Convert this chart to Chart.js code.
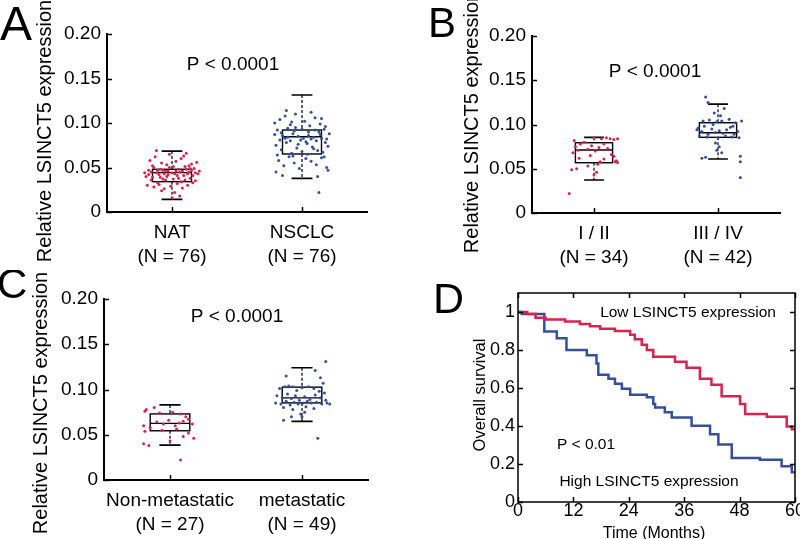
<!DOCTYPE html>
<html>
<head>
<meta charset="utf-8">
<script src="https://cdn.jsdelivr.net/npm/chart.js@4.4.1/dist/chart.umd.min.js"></script>
<style>
  html, body { margin: 0; padding: 0; background: #fff; overflow: hidden; }
  #fig { position: relative; width: 800px; height: 539px; overflow: hidden; background: #fff; }
  #fig canvas { position: absolute; }
</style>
</head>
<body>
<div id="fig">
  <canvas id="panelA" width="400" height="270" style="left:0;top:0"></canvas>
  <canvas id="panelB" width="400" height="270" style="left:400px;top:0"></canvas>
  <canvas id="panelC" width="400" height="269" style="left:0;top:270px"></canvas>
  <canvas id="panelD" width="420" height="269" style="left:400px;top:270px"></canvas>
</div>
<script>
const FONT = "'Liberation Sans', Arial, sans-serif";
const RED = '#d8234f';
const BLUE = '#34509c';

// shared y ticks for the box panels
const boxYTicks = [0, 0.05, 0.10, 0.15, 0.20];

// ---- Panel A: NAT vs NSCLC ----
const catsA = [['NAT', '(N = 76)'], ['NSCLC', '(N = 76)']];
// [jitter, value]
const natPoints = [
  [-0.18,0.047],[-0.15,0.052],[-0.12,0.044],[-0.09,0.039],[-0.05,0.046],[-0.02,0.050],[0.02,0.043],[0.05,0.048],[0.09,0.041],[0.13,0.045],[0.17,0.049],[0.20,0.043],
  [-0.20,0.040],[-0.16,0.036],[-0.11,0.033],[-0.07,0.047],[-0.03,0.042],[0.01,0.037],[0.06,0.045],[0.10,0.051],[0.14,0.038],[0.18,0.035],
  [-0.17,0.058],[-0.13,0.062],[-0.08,0.055],[-0.04,0.053],[0.03,0.057],[0.07,0.060],[0.11,0.066],[0.15,0.054],[0.19,0.056],
  [-0.19,0.030],[-0.14,0.028],[-0.10,0.031],[-0.06,0.026],[-0.01,0.029],[0.04,0.032],[0.08,0.027],[0.12,0.030],[0.16,0.033],
  [-0.21,0.044],[-0.12,0.069],[-0.02,0.065],[0.09,0.063],[0.02,0.022],[0.06,0.018],[0.00,0.016],[-0.08,0.024],
  [-0.16,0.045],[-0.11,0.047],[-0.06,0.043],[-0.03,0.046],[0.00,0.044],[0.04,0.041],[0.08,0.046],[0.12,0.043],[0.15,0.047],[-0.18,0.042],
  [-0.14,0.050],[-0.09,0.048],[-0.04,0.040],[0.01,0.051],[0.05,0.038],[0.10,0.036],[0.14,0.049],[0.18,0.044],[0.21,0.046],
  [-0.15,0.039],[-0.10,0.042],[-0.05,0.036],[0.03,0.046],[0.07,0.034],[0.11,0.048],[0.16,0.041],[-0.07,0.037],[0.13,0.052]
];
const nsclcPoints = [
  [-0.19,0.092],[-0.15,0.086],[-0.11,0.084],[-0.07,0.088],[-0.03,0.085],[0.01,0.083],[0.05,0.086],[0.09,0.084],[0.13,0.090],[0.17,0.093],[0.21,0.088],
  [-0.20,0.075],[-0.16,0.070],[-0.12,0.078],[-0.08,0.066],[-0.04,0.072],[0.00,0.068],[0.04,0.077],[0.08,0.073],[0.12,0.069],[0.16,0.067],[0.20,0.074],
  [-0.21,0.100],[-0.17,0.104],[-0.13,0.108],[-0.09,0.098],[-0.05,0.095],[0.02,0.102],[0.06,0.097],[0.10,0.106],[0.14,0.099],[0.18,0.096],
  [-0.18,0.058],[-0.14,0.052],[-0.10,0.062],[-0.06,0.055],[-0.02,0.049],[0.03,0.060],[0.07,0.057],[0.11,0.053],[0.15,0.061],[0.19,0.050],
  [-0.20,0.045],[-0.12,0.114],[-0.05,0.110],[0.07,0.112],[0.15,0.105],[0.20,0.047],[0.12,0.040],[0.13,0.022],[-0.15,0.041],
  [-0.17,0.081],[-0.13,0.083],[-0.09,0.080],[-0.01,0.081],[0.03,0.079],[0.07,0.082],[0.11,0.080],[0.15,0.083],[0.19,0.082],
  [-0.21,0.087],[-0.16,0.089],[-0.06,0.091],[0.00,0.093],[0.05,0.090],[0.10,0.092],[0.14,0.087],[-0.19,0.064],[-0.07,0.063],[0.17,0.062],
  [-0.11,0.094],[-0.03,0.076],[0.09,0.071],[0.18,0.078],[-0.08,0.101],[0.04,0.065]
];
// [lower whisker, q1, median, q3, upper whisker]
const boxA = [[0.0142, 0.0341, 0.0442, 0.0480, 0.0684], [0.0378, 0.0652, 0.0846, 0.0921, 0.1315]];

// ---- Panel B: stage I/II vs III/IV ----
const catsB = [['I / II', '(N = 34)'], ['III / IV', '(N = 42)']];
const stage12Points = [
  [-0.20,0.022],[-0.18,0.049],[-0.14,0.050],[-0.05,0.053],[0.02,0.046],[0.00,0.043],[0.03,0.055],
  [-0.17,0.068],[-0.15,0.075],[-0.13,0.071],[-0.11,0.078],[-0.08,0.080],[-0.05,0.072],[-0.02,0.076],[0.01,0.070],[0.04,0.074],[0.08,0.078],[0.11,0.073],[0.14,0.066],[0.16,0.064],
  [0.06,0.084],[0.10,0.085],[0.13,0.084],[0.16,0.083],[0.19,0.084],[0.00,0.085],
  [0.18,0.059],[0.19,0.057],[0.17,0.058],[0.08,0.061],[-0.12,0.062],[-0.03,0.065],[0.05,0.058],[-0.16,0.082]
];
const stage34Points = [
  [-0.10,0.131],[-0.08,0.125],[0.05,0.118],[-0.03,0.113],[0.02,0.110],
  [-0.17,0.094],[-0.16,0.096],[-0.13,0.092],[-0.11,0.098],[-0.08,0.089],[-0.05,0.095],[-0.02,0.091],[0.01,0.093],[0.04,0.090],[0.07,0.094],[0.10,0.097],[0.13,0.089],[0.16,0.092],[0.19,0.104],
  [-0.12,0.104],[-0.07,0.105],[-0.01,0.103],[0.03,0.104],[0.09,0.106],[0.14,0.102],[-0.04,0.100],
  [-0.15,0.087],[-0.09,0.086],[0.00,0.085],[0.06,0.087],[0.11,0.086],[0.17,0.085],
  [-0.02,0.079],[0.01,0.075],[-0.01,0.071],[0.03,0.068],
  [-0.13,0.062],[-0.10,0.063],[0.18,0.064],[0.18,0.058],[0.18,0.040],[0.12,0.098]
];
const boxB = [[0.0373, 0.0568, 0.0712, 0.0794, 0.0855], [0.0610, 0.0855, 0.0907, 0.1020, 0.1230]];

// ---- Panel C: non-metastatic vs metastatic ----
const catsC = [['Non-metastatic', '(N = 27)'], ['metastatic', '(N = 49)']];
const nonMetPoints = [
  [-0.19,0.076],[-0.18,0.078],[-0.12,0.080],[-0.08,0.074],[0.02,0.075],[0.08,0.073],[0.12,0.070],
  [-0.20,0.060],[-0.15,0.058],[-0.10,0.064],[-0.05,0.062],[-0.01,0.066],[0.04,0.060],[0.07,0.063],[0.10,0.065],[0.14,0.067],[0.17,0.062],
  [-0.19,0.054],[-0.06,0.055],[0.05,0.056],[0.14,0.052],[0.18,0.046],
  [-0.20,0.040],[-0.16,0.038],[0.00,0.043],[0.10,0.048],[0.08,0.022]
];
const metPoints = [
  [0.18,0.131],[0.10,0.121],[-0.12,0.115],[0.14,0.113],[0.16,0.107],
  [-0.17,0.101],[-0.13,0.103],[-0.10,0.104],[-0.07,0.103],[-0.04,0.099],[0.00,0.102],[0.05,0.103],[0.09,0.101],[0.13,0.098],[0.17,0.096],
  [-0.19,0.093],[-0.15,0.091],[-0.11,0.095],[-0.08,0.090],[-0.05,0.093],[-0.02,0.088],[0.02,0.092],[0.06,0.089],[0.10,0.094],[0.14,0.091],[0.18,0.088],
  [-0.20,0.085],[-0.16,0.084],[-0.12,0.087],[-0.09,0.083],[-0.06,0.086],[-0.03,0.084],[0.01,0.085],[0.04,0.087],[0.07,0.085],[0.11,0.086],[0.15,0.084],[0.19,0.085],[0.21,0.084],
  [-0.14,0.080],[-0.07,0.078],[0.03,0.081],[0.09,0.079],[-0.01,0.073],[0.00,0.070],
  [-0.14,0.066],[-0.08,0.070],[0.02,0.075],[0.12,0.046]
];
const boxC = [[0.0385, 0.0544, 0.0626, 0.0730, 0.0830], [0.0648, 0.0852, 0.0907, 0.1026, 0.1240]];

// ---- Panel D: Kaplan-Meier ----
const survXTicks = [0, 12, 24, 36, 48, 60];
const survYTicks = [0, 0.2, 0.4, 0.6, 0.8, 1];
const lowTime = [0, 2, 3.8, 6, 10.2, 13.4, 15.6, 17.8, 21, 24.3, 25.3, 26.8, 27.9, 29.3, 34, 36.5, 39.4, 41.9, 44.1, 48.1, 49.2, 53.9, 58.2, 59.3, 60];
const lowSurv = [1.0, 0.99, 0.97, 0.96, 0.95, 0.937, 0.925, 0.912, 0.90, 0.88, 0.856, 0.828, 0.80, 0.764, 0.738, 0.706, 0.649, 0.617, 0.557, 0.516, 0.463, 0.449, 0.397, 0.383, 0.383];
const highTime = [0, 0.8, 5.7, 8.4, 10.5, 14.9, 17, 17.4, 19.6, 21, 22.5, 24.3, 27.9, 29.3, 29.7, 31.8, 33.3, 37.6, 41.6, 43.4, 46.3, 52.4, 57.1, 59.3, 60];
const highSurv = [1.0, 0.99, 0.897, 0.862, 0.80, 0.773, 0.729, 0.67, 0.649, 0.622, 0.596, 0.564, 0.551, 0.516, 0.498, 0.472, 0.445, 0.401, 0.356, 0.303, 0.232, 0.223, 0.188, 0.156, 0.156];

const BOX_HALF = 0.15;
const CAP_HALF = 0.08;

function drawText(ctx, text, x, y, size, rotate) {
  ctx.save();
  ctx.font = size + 'px ' + FONT;
  ctx.fillStyle = '#000';
  ctx.textAlign = 'center';
  ctx.textBaseline = 'middle';
  ctx.translate(x, y);
  if (rotate) ctx.rotate(-Math.PI / 2);
  ctx.fillText(text, 0, 0);
  ctx.restore();
}

function drawLetter(ctx, letter, x, y, size) {
  ctx.save();
  ctx.font = size + 'px ' + FONT;
  ctx.fillStyle = '#000';
  ctx.textAlign = 'left';
  ctx.textBaseline = 'alphabetic';
  ctx.fillText(letter, x, y);
  ctx.restore();
}

function toXY(points, cat) {
  return points.map(p => ({ x: cat + p[0], y: p[1] }));
}

function boxPanel(canvasId, cats, redPts, bluePts, stats, cfg) {
  const decor = {
    id: 'decor',
    beforeDatasetsDraw(chart) {
      const { ctx, scales: { x, y } } = chart;
      ctx.save();
      ctx.strokeStyle = '#000';
      stats.forEach((s, i) => {
        const cx = x.getPixelForValue(i + 1);
        const half = x.getPixelForValue(i + 1 + BOX_HALF) - cx;
        const cap = x.getPixelForValue(i + 1 + CAP_HALF) - cx;
        const [lo, q1, med, q3, hi] = s.map(v => y.getPixelForValue(v));
        ctx.lineWidth = 1.2;
        ctx.setLineDash([3, 2]);
        ctx.beginPath();
        ctx.moveTo(cx, hi); ctx.lineTo(cx, q3);
        ctx.moveTo(cx, q1); ctx.lineTo(cx, lo);
        ctx.stroke();
        ctx.setLineDash([]);
        ctx.lineWidth = 1.6;
        ctx.beginPath();
        ctx.moveTo(cx - cap, hi); ctx.lineTo(cx + cap, hi);
        ctx.moveTo(cx - cap, lo); ctx.lineTo(cx + cap, lo);
        ctx.stroke();
        ctx.lineWidth = 1.4;
        ctx.strokeRect(cx - half, q3, 2 * half, q1 - q3);
        ctx.beginPath();
        ctx.moveTo(cx - half, med); ctx.lineTo(cx + half, med);
        ctx.stroke();
      });
      ctx.restore();
    },
    afterDraw(chart) {
      const { ctx, chartArea: a, scales: { x, y } } = chart;
      ctx.save();
      ctx.strokeStyle = '#000';
      ctx.lineWidth = 1.5;
      ctx.beginPath();
      // inward tick marks
      boxYTicks.forEach(v => {
        const py = Math.round(y.getPixelForValue(v)) + 0.5;
        ctx.moveTo(a.left, py); ctx.lineTo(a.left + 5, py);
      });
      [1, 2].forEach(v => {
        const px = Math.round(x.getPixelForValue(v)) + 0.5;
        ctx.moveTo(px, a.bottom); ctx.lineTo(px, a.bottom - 5);
      });
      ctx.stroke();
      ctx.restore();
      drawLetter(ctx, cfg.letter, cfg.letterX, cfg.letterY, cfg.letterSize);
      drawText(ctx, 'P < 0.0001', cfg.pX, cfg.pY, 19);
      drawText(ctx, 'Relative LSINCT5 expression', cfg.titleX, cfg.titleY, 20, true);
    }
  };

  return new Chart(document.getElementById(canvasId), {
    type: 'scatter',
    data: {
      datasets: [
        { data: toXY(redPts, 1), backgroundColor: RED, pointRadius: 1.5, borderWidth: 0 },
        { data: toXY(bluePts, 2), backgroundColor: BLUE, pointRadius: 1.5, borderWidth: 0 }
      ]
    },
    options: {
      responsive: false,
      animation: false,
      layout: { padding: { top: cfg.padTop, right: cfg.padRight, left: 0, bottom: 0 } },
      plugins: { legend: { display: false }, tooltip: { enabled: false } },
      scales: {
        x: {
          type: 'linear', min: 0.5, max: 2.5,
          grid: { display: false, drawTicks: false },
          border: { display: true, color: '#000', width: 2 },
          afterBuildTicks: s => { s.ticks = [{ value: 1 }, { value: 2 }]; },
          afterFit: s => { s.height = cfg.xAxisH; },
          ticks: {
            autoSkip: false, maxRotation: 0, padding: 9, color: '#000',
            font: { family: FONT, size: 19, lineHeight: 1.25 },
            callback: v => cats[Math.round(v) - 1]
          }
        },
        y: {
          type: 'linear', min: 0, max: 0.2,
          grid: { display: false, drawTicks: false },
          border: { display: true, color: '#000', width: 2 },
          afterBuildTicks: s => { s.ticks = boxYTicks.map(v => ({ value: v })); },
          afterFit: s => { s.width = cfg.yAxisW; },
          ticks: {
            padding: 6, color: '#000',
            font: { family: FONT, size: 19 },
            callback: v => (v === 0 ? '0' : v.toFixed(2))
          }
        }
      }
    },
    plugins: [decor]
  });
}

boxPanel('panelA', catsA, natPoints, nsclcPoints, boxA, {
  padTop: 34, padRight: 33, yAxisW: 107, xAxisH: 58,
  letter: 'A', letterX: 0, letterY: 40, letterSize: 48,
  pX: 233, pY: 65, titleX: 45, titleY: 131
});
boxPanel('panelB', catsB, stage12Points, stage34Points, boxB, {
  padTop: 36, padRight: 20, yAxisW: 132, xAxisH: 57,
  letter: 'B', letterX: 28, letterY: 37, letterSize: 42,
  pX: 255, pY: 72, titleX: 72, titleY: 122
});
boxPanel('panelC', catsC, nonMetPoints, metPoints, boxC, {
  padTop: 29, padRight: 32, yAxisW: 104, xAxisH: 59,
  letter: 'C', letterX: -3, letterY: 28, letterSize: 42,
  pX: 237, pY: 47, titleX: 41, titleY: 133
});

// ---- Panel D ----
const kmDecor = {
  id: 'kmDecor',
  afterDraw(chart) {
    const { ctx, chartArea: a, scales: { x, y } } = chart;
    ctx.save();
    ctx.strokeStyle = '#000';
    ctx.lineWidth = 1.5;
    ctx.strokeRect(a.left, a.top, a.right - a.left, a.bottom - a.top);
    ctx.beginPath();
    survYTicks.forEach(v => {
      const py = Math.round(y.getPixelForValue(v)) + 0.5;
      ctx.moveTo(a.left, py); ctx.lineTo(a.left + 5, py);
      ctx.moveTo(a.right, py); ctx.lineTo(a.right - 5, py);
    });
    survXTicks.forEach(v => {
      const px = Math.round(x.getPixelForValue(v)) + 0.5;
      ctx.moveTo(px, a.bottom); ctx.lineTo(px, a.bottom - 5);
      ctx.moveTo(px, a.top); ctx.lineTo(px, a.top + 5);
    });
    ctx.stroke();
    ctx.restore();
    drawLetter(ctx, 'D', 33, 43, 43);
    drawText(ctx, 'Low LSINCT5 expression', 288, 43, 15.5);
    drawText(ctx, 'High LSINCT5 expression', 249, 212, 15.5);
    drawText(ctx, 'P < 0.01', 186, 175, 15.5);
    drawText(ctx, 'Time (Months)', 254, 264, 16);
    drawText(ctx, 'Overall survival', 80, 125, 16.5, true);
  }
};

new Chart(document.getElementById('panelD'), {
  type: 'line',
  data: {
    datasets: [
      {
        data: lowTime.map((t, i) => ({ x: t, y: lowSurv[i] })),
        borderColor: RED, borderWidth: 2.5, pointRadius: 0, stepped: true, fill: false
      },
      {
        data: highTime.map((t, i) => ({ x: t, y: highSurv[i] })),
        borderColor: BLUE, borderWidth: 2.5, pointRadius: 0, stepped: true, fill: false
      }
    ]
  },
  options: {
    responsive: false,
    animation: false,
    layout: { padding: { top: 23, right: 25, left: 0, bottom: 0 } },
    plugins: { legend: { display: false }, tooltip: { enabled: false } },
    scales: {
      x: {
        type: 'linear', min: 0, max: 60,
        grid: { display: false, drawTicks: false },
        border: { display: false },
        afterBuildTicks: s => { s.ticks = survXTicks.map(v => ({ value: v })); },
        afterFit: s => { s.height = 37; },
        ticks: {
          autoSkip: false, maxRotation: 0, padding: 0, color: '#000',
          font: { family: FONT, size: 18, lineHeight: 1 }
        }
      },
      y: {
        type: 'linear', min: 0, max: 1.1,
        grid: { display: false, drawTicks: false },
        border: { display: false },
        afterBuildTicks: s => { s.ticks = survYTicks.map(v => ({ value: v })); },
        afterFit: s => { s.width = 118; },
        ticks: {
          padding: 3, color: '#000',
          font: { family: FONT, size: 18 },
          callback: v => String(+v.toFixed(1))
        }
      }
    }
  },
  plugins: [kmDecor]
});
</script>
</body>
</html>
